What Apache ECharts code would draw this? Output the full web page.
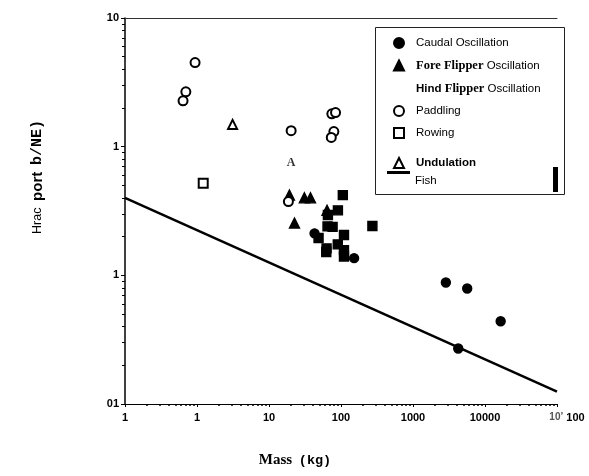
<!DOCTYPE html>
<html>
<head>
<meta charset="utf-8">
<script src="https://cdn.jsdelivr.net/npm/echarts@6/dist/echarts.min.js"></script>
<style>
  html, body { margin: 0; padding: 0; background: #fff; }
  #chart { width: 589px; height: 476px; }
</style>
</head>
<body>
<div id="chart"></div>
<script>
// values: [mass kg, value]
const caudalPts = [[42.9, 0.212], [152, 0.136], [2860, 0.088], [5660, 0.079], [16500, 0.044], [4250, 0.027]];
const foreFlipperPts = [[19.2, 0.42], [31, 0.40], [37.7, 0.40], [22.6, 0.255], [64, 0.32]];
const hindFlipperPts = [
  [106, 0.42], [90.6, 0.32], [65.8, 0.294], [65, 0.24], [76.4, 0.238], [48.8, 0.195],
  [110, 0.206], [90.2, 0.174], [63, 0.162], [62.4, 0.152], [110, 0.157], [110, 0.140], [273, 0.242]
];
const paddlingPts = [[0.64, 2.27], [0.70, 2.67], [0.94, 4.5], [20.3, 1.33], [18.6, 0.374], [74.6, 1.80], [84, 1.84], [79.6, 1.31], [73.3, 1.18]];
const rowingPts = [[1.22, 0.52]];
const undulationPts = [[3.12, 1.49]];
const letterPts = [[20.3, 0.75]];
const fishLine = [[0.1, 0.40], [100000, 0.0125]];

// tick labels as printed (log10 exponent -> text)
const xTickExp = [-1, 0, 1, 2, 3, 4, 5];
const xTickText = ['1', '1', '10', '100', '1000', '10000', '{s|10\u2019}{b| 100}'];
const yTickExp = [-2, -1, 0, 1];
const yTickText = ['01', '1', '1', '10'];

const chart = echarts.init(document.getElementById('chart'));

const tickLabel = (exps, texts) => v => {
  const i = exps.indexOf(Math.round(Math.log10(v)));
  return i < 0 ? '' : texts[i];
};

const SANS = 'Liberation Sans, Arial, sans-serif';
const SERIF = 'Liberation Serif, Times New Roman, serif';

const legendNames = {
  'Caudal Oscillation': '{n|Caudal Oscillation}',
  'Fore Flipper Oscillation': '{f|Fore Flipper} {n|Oscillation}',
  'Hind Flipper Oscillation': '{h|Hind} {f|Flipper} {n|Oscillation}',
  'Paddling': '{n|Paddling}',
  'Rowing': '{n|Rowing}',
  'Undulation': '{u|Undulation}',
  'Fish': '{n|Fish}'
};
const legendRich = {
  n: { fontFamily: SANS, fontSize: 11.5, color: '#000' },
  f: { fontFamily: SERIF, fontWeight: 'bold', fontSize: 12.5, color: '#000' },
  h: { fontFamily: SANS, fontWeight: 'bold', fontSize: 11.5, color: '#000' },
  u: { fontFamily: SANS, fontWeight: 'bold', fontSize: 11.5, color: '#000' }
};
const legendText = pad => ({ fontFamily: SANS, fontSize: 11.5, color: '#000', padding: pad, rich: legendRich });

const scatter = (name, data, symbol, size) => ({
  name, type: 'scatter', data, symbol, symbolSize: size,
  itemStyle: { color: '#000', borderColor: '#000', borderWidth: 1.4, opacity: 1 },
  z: 3
});

chart.setOption({
  animation: false,
  grid: { left: 125, right: 32, top: 18, bottom: 72 },
  xAxis: [{
    type: 'log', min: 0.1, max: 100000,
    name: '{m|Mass}  {k|(kg)}', nameLocation: 'middle', nameGap: 49,
    nameTextStyle: {
      padding: [0, 92, 0, 0],
      rich: {
        m: { fontFamily: SERIF, fontWeight: 'bold', fontSize: 15, color: '#000' },
        k: { fontFamily: 'Liberation Mono', fontWeight: 'bold', fontSize: 13.5, color: '#000' }
      }
    },
    axisLine: { lineStyle: { color: '#000', width: 1.2 } },
    axisTick: { length: 3, lineStyle: { color: '#000' } },
    minorTick: { show: true, splitNumber: 9, length: 2, lineStyle: { color: '#000', width: 1.5 } },
    splitLine: { show: false },
    axisLabel: {
      formatter: tickLabel(xTickExp, xTickText), margin: 8,
      fontFamily: SANS, fontWeight: 'bold', fontSize: 11, color: '#000',
      rich: {
        s: { fontFamily: SANS, fontSize: 10, color: '#555', padding: [0, 0, 0, 20] },
        b: { fontFamily: SANS, fontWeight: 'bold', fontSize: 11, color: '#000' }
      }
    }
  }, {
    type: 'log', min: 0.1, max: 100000, position: 'top',
    axisLine: { lineStyle: { color: '#333', width: 1 } },
    axisTick: { show: false }, axisLabel: { show: false }, splitLine: { show: false }
  }],
  yAxis: {
    type: 'log', min: 0.01, max: 10,
    name: '{a|Hrac}  {p|port}  {b|b/NE)}', nameLocation: 'middle', nameGap: 80,
    nameTextStyle: {
      padding: [0, 0, 0, 68],
      rich: {
        a: { fontFamily: SANS, fontSize: 12.5, color: '#000' },
        p: { fontFamily: SANS, fontWeight: 'bold', fontSize: 15, color: '#000' },
        b: { fontFamily: 'Liberation Mono', fontWeight: 'bold', fontSize: 15, color: '#000' }
      }
    },
    axisLine: { lineStyle: { color: '#000', width: 1.5 } },
    axisTick: { length: 4, lineStyle: { color: '#000' } },
    minorTick: { show: true, splitNumber: 9, length: 3, lineStyle: { color: '#000' } },
    splitLine: { show: false },
    axisLabel: {
      formatter: tickLabel(yTickExp, yTickText), margin: 6,
      fontFamily: SANS, fontWeight: 'bold', fontSize: 11, color: '#000'
    }
  },
  legend: [{
    orient: 'vertical', left: 388, top: 32, itemWidth: 10, itemHeight: 10, itemGap: 10,
    data: [
      'Caudal Oscillation', 'Fore Flipper Oscillation',
      { name: 'Hind Flipper Oscillation', itemStyle: { opacity: 0 } },
      'Paddling', 'Rowing'
    ],
    formatter: n => legendNames[n],
    textStyle: legendText([0, 0, 0, 7])
  }, {
    orient: 'vertical', left: 388, top: 152, itemWidth: 10, itemHeight: 10,
    data: ['Undulation'],
    formatter: n => legendNames[n],
    textStyle: legendText([0, 0, 0, 7])
  }, {
    orient: 'vertical', left: 382, top: 166, itemWidth: 23, itemHeight: 3,
    data: [{ name: 'Fish', icon: 'rect' }],
    formatter: n => legendNames[n],
    textStyle: legendText([16, 0, 0, 0])
  }],
  graphic: [{
    type: 'rect', left: 373, top: 25, silent: true,
    shape: { width: 189, height: 167 },
    style: { fill: 'none', stroke: '#222', lineWidth: 1 }
  }, {
    type: 'rect', left: 553, top: 167, silent: true,
    shape: { width: 5, height: 25 },
    style: { fill: '#000' }
  }],
  series: [
    scatter('Caudal Oscillation', caudalPts, 'circle', 9),
    scatter('Fore Flipper Oscillation', foreFlipperPts, 'triangle', 10),
    scatter('Hind Flipper Oscillation', hindFlipperPts, 'rect', 9),
    scatter('Paddling', paddlingPts, 'emptyCircle', 9),
    scatter('Rowing', rowingPts, 'emptyRect', 9),
    scatter('Undulation', undulationPts, 'emptyTriangle', 9),
    {
      type: 'scatter', data: letterPts, symbolSize: 1,
      itemStyle: { color: 'rgba(0,0,0,0)' },
      label: {
        show: true, position: 'inside', formatter: 'A',
        fontFamily: SERIF, fontWeight: 'bold', fontSize: 12, color: '#000'
      }
    },
    {
      name: 'Fish', type: 'line', data: fishLine, showSymbol: false, symbol: 'none',
      lineStyle: { color: '#000', width: 2.5 }, itemStyle: { color: '#000' }, z: 2
    }
  ]
});
</script>
</body>
</html>
